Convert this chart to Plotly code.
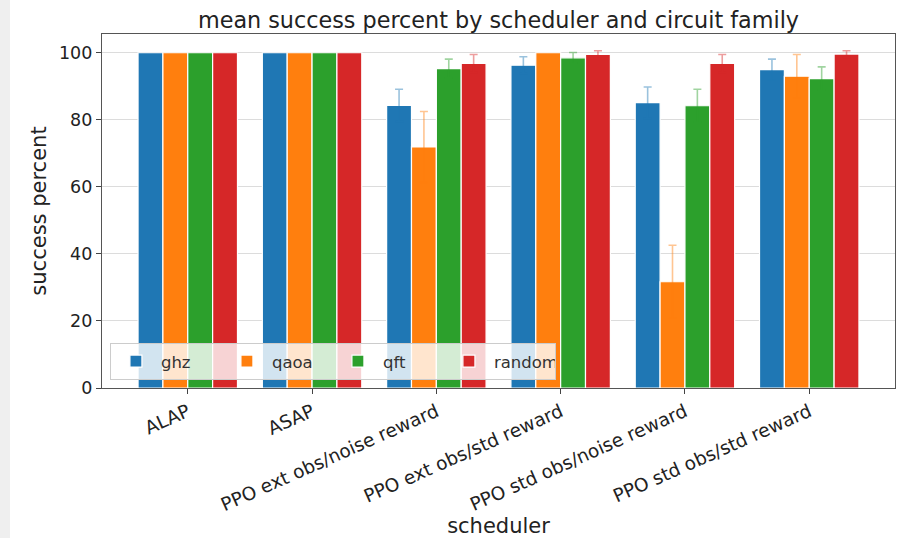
import plotly.graph_objects as go

schedulers = ["ALAP", "ASAP", "PPO ext obs/noise reward", "PPO ext obs/std reward",
              "PPO std obs/noise reward", "PPO std obs/std reward"]
families = ["ghz", "qaoa", "qft", "random"]

ghz_mean = [100, 100, 84.3, 96.3, 85.1, 95.0]
qaoa_mean = [100, 100, 71.9, 100, 31.7, 93.0]
qft_mean = [100, 100, 95.3, 98.5, 84.2, 92.3]
random_mean = [100, 100, 96.8, 99.5, 96.8, 99.6]

# "NaN" = no error bar drawn for that bar
ghz_err = ["NaN", "NaN", 4.8, 2.5, 4.7, 3.1]
qaoa_err = ["NaN", "NaN", 10.6, "NaN", 10.9, 6.5]
qft_err = ["NaN", "NaN", 2.8, 1.6, 4.9, 3.5]
random_err = ["NaN", "NaN", 2.7, 1.1, 2.7, 1.0]

colors = ["#1f77b4", "#ff7f0e", "#2ca02c", "#d62728"]
err_colors = ["rgba(31,119,180,0.45)", "rgba(255,127,14,0.45)",
              "rgba(44,160,44,0.45)", "rgba(214,39,40,0.45)"]

means = [ghz_mean, qaoa_mean, qft_mean, random_mean]
errs = [ghz_err, qaoa_err, qft_err, random_err]

fig = go.Figure()
for fam, m, e, c, ec in zip(families, means, errs, colors, err_colors):
    fig.add_trace(go.Bar(
        name=fam, x=list(range(len(schedulers))), y=m,
        marker=dict(color=c, line=dict(color="white", width=1.2)),
        error_y=dict(type="data", array=e, visible=True, color=ec, thickness=1.6, width=4),
    ))

font_fam = "DejaVu Sans, Arial, sans-serif"
fig.update_layout(
    width=908, height=538,
    paper_bgcolor="white", plot_bgcolor="white",
    margin=dict(l=102, r=13, t=34, b=150),
    barmode="group", bargap=0.2, bargroupgap=0,
    font=dict(family=font_fam, size=17, color="#222"),
    title=dict(text="mean success percent by scheduler and circuit family",
               x=0.5, xref="paper", xanchor="center", y=1 - 20 / 538, yanchor="middle",
               font=dict(size=22.3, color="#222")),
    legend=dict(orientation="h", x=0.01, y=0.023, xanchor="left", yanchor="bottom",
                bgcolor="rgba(255,255,255,0.8)", bordercolor="#cccccc", borderwidth=1,
                font=dict(size=16.5, color="#333"), entrywidth=56, itemwidth=40,
                traceorder="normal"),
    showlegend=True,
)
fig.update_xaxes(
    tickmode="array", tickvals=list(range(len(schedulers))), ticktext=schedulers,
    range=[-0.69, 5.69], tickangle=-24, ticks="outside", ticklen=5, tickcolor="#444",
    showline=True, linecolor="#555", linewidth=1.2, mirror=True, showgrid=False,
    tickfont=dict(size=18.5), automargin=False,
    title=dict(text="scheduler", font=dict(size=21), standoff=4),
)
fig.update_yaxes(
    range=[0, 105.6], tickvals=[0, 20, 40, 60, 80, 100], ticks="outside", ticklen=5,
    tickcolor="#444", showline=True, linecolor="#555", linewidth=1.2, mirror=True,
    showgrid=True, gridcolor="#dcdcdc", gridwidth=1, zeroline=False,
    tickfont=dict(size=17.5), automargin=False,
    title=dict(text="success percent", font=dict(size=21), standoff=6),
)
fig.add_shape(type="rect", xref="paper", yref="paper",
              x0=-102 / 793, x1=-92 / 793, y0=-150 / 354, y1=1 + 34 / 354,
              fillcolor="#efefef", line=dict(width=0), layer="below")

fig.write_html("out.html", config={"displayModeBar": False},
               post_script="document.body.style.margin='0';document.body.style.overflow='hidden';")
